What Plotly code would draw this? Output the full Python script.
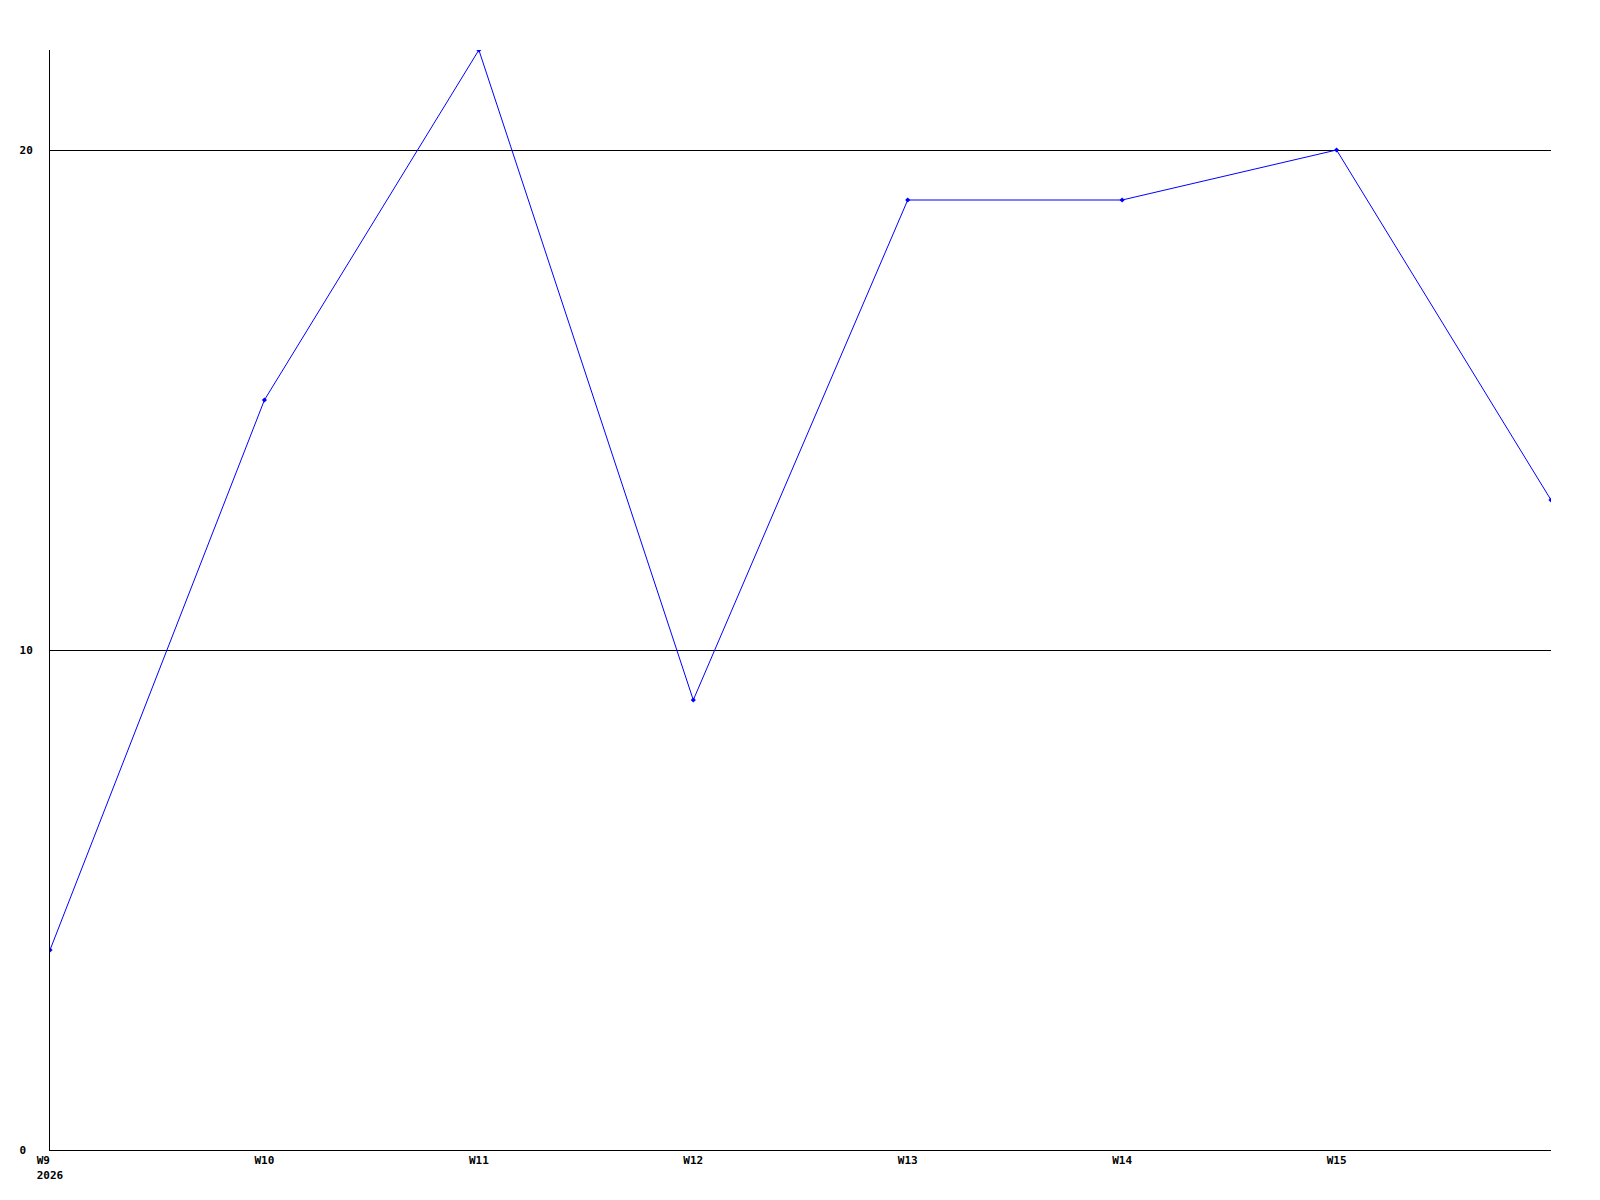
import plotly.graph_objects as go

WEEK_DATES = [
    "2026-02-23",
    "2026-03-02",
    "2026-03-09",
    "2026-03-16",
    "2026-03-23",
    "2026-03-30",
    "2026-04-06",
    "2026-04-13",
]
VALUES = [4, 15, 22, 9, 19, 19, 20, 13]

TICK_DATES = WEEK_DATES[:7]
TICK_LABELS = ["W9\u00a0\u00a0<br>2026", "W10", "W11", "W12", "W13", "W14", "W15"]
Y_TICKS = [0, 10, 20]
Y_TICK_LABELS = ["0\u00a0", "10", "20"]

FONT = dict(family="DejaVu Sans Mono", size=11, color="black", weight="bold")

fig = go.Figure()

fig.add_trace(go.Scatter(
    x=WEEK_DATES,
    y=VALUES,
    mode="lines+markers",
    line=dict(color="#0000ff", width=1),
    marker=dict(symbol="diamond", size=4, color="#0000ff"),
    showlegend=False,
))

# page body has an 8px default margin, so offsets are compensated here
fig.update_layout(
    width=1600,
    height=1200,
    paper_bgcolor="white",
    plot_bgcolor="white",
    margin=dict(l=42, r=57, t=42, b=58, autoexpand=False),
    font=FONT,
    xaxis=dict(
        type="date",
        range=[WEEK_DATES[0], WEEK_DATES[-1]],
        tickvals=TICK_DATES,
        ticktext=TICK_LABELS,
        showgrid=False,
        showline=True,
        linecolor="black",
        linewidth=1,
        ticks="",
        tickfont=FONT,
    ),
    yaxis=dict(
        range=[0, 22],
        tickvals=Y_TICKS,
        ticktext=Y_TICK_LABELS,
        showgrid=True,
        gridcolor="black",
        gridwidth=1,
        zeroline=False,
        showline=True,
        linecolor="black",
        linewidth=1,
        ticks="",
        ticklabelstandoff=14,
        tickfont=FONT,
    ),
)

fig.write_html("out.html")
